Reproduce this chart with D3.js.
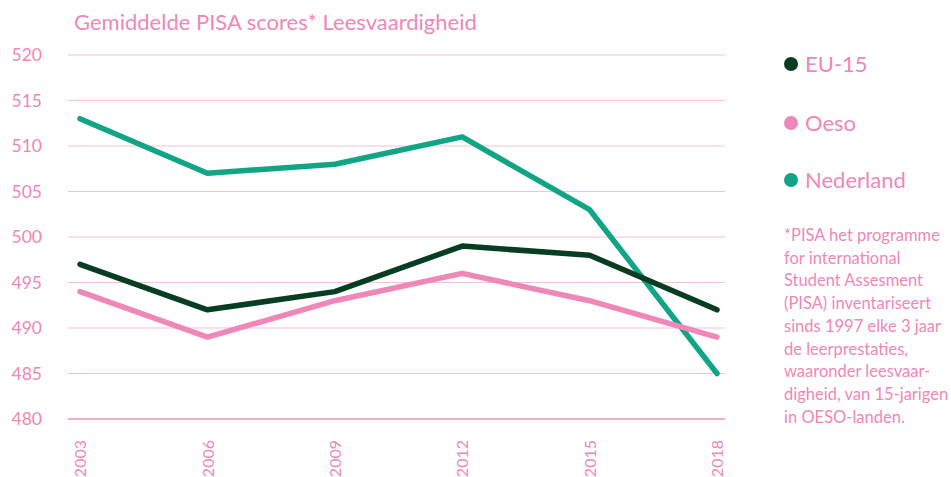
<!DOCTYPE html>
<html><head><meta charset="utf-8">
<script src="https://cdn.jsdelivr.net/npm/d3@7"></script>
<style>
body{margin:0;background:#fff;}
svg{display:block;font-family:"Lato","Noto Sans",sans-serif;}
</style></head>
<body><svg id="c" width="951" height="477"></svg>
<script>
const years = ["2003","2006","2009","2012","2015","2018"];
const eu15 = [497, 492, 494, 499, 498, 492];
const oeso = [494, 489, 493, 496, 493, 489];
const nederland = [513, 507, 508, 511, 503, 485];
const yTicks = [480, 485, 490, 495, 500, 505, 510, 515, 520];
const seriesNames = ["EU-15", "Oeso", "Nederland"];
const seriesColors = ["#073d21", "#ef87b8", "#12a585"];
const title = "Gemiddelde PISA scores* Leesvaardigheid";
const footnote = ["*PISA het programme","for international","Student Assesment","(PISA) inventariseert","sinds 1997 elke 3 jaar","de leerprestaties,","waaronder leesvaar-","digheid, van 15-jarigen","in OESO-landen."];

const pink = "#ef87b8";
const svg = d3.select("#c");
const x = d3.scalePoint().domain(years).range([80, 717]);
const y = d3.scaleLinear().domain([480, 520]).range([419, 55]);

svg.append("text").attr("x", 74).attr("y", 30).attr("fill", pink)
  .attr("font-size", 22).text(title);

// grid
const g = svg.append("g");
g.selectAll("line").data(yTicks).join("line")
  .attr("x1", 68).attr("x2", 725)
  .attr("y1", d => y(d)).attr("y2", d => y(d))
  .attr("stroke", d => d === 480 ? "#f08fbe" : "#f7c0d9")
  .attr("stroke-width", d => d === 480 ? 1.5 : 1);

// y axis labels
const yAxis = d3.axisLeft(y).tickValues(yTicks).tickSize(0).tickPadding(0);
svg.append("g").attr("transform", "translate(42,0)").call(yAxis)
  .call(s => s.select(".domain").remove())
  .call(s => s.selectAll("text").attr("fill", pink).attr("font-size", 17.5)
     .attr("font-family", "Lato, sans-serif"));

// x labels rotated
const xAxis = d3.axisBottom(x).tickSize(0).tickPadding(0);
svg.append("g").attr("transform", "translate(0,440)").call(xAxis)
  .call(s => s.select(".domain").remove())
  .call(s => s.selectAll("text").attr("fill", pink).attr("font-size", 16)
     .attr("font-family", "Lato, sans-serif")
     .attr("transform", "rotate(-90)")
     .attr("text-anchor", "end").attr("dy", "0.35em").attr("x", 0).attr("y", 0));

const line = d3.line().x((d, i) => x(years[i])).y(d => y(d));
const data = [eu15, oeso, nederland];
const drawOrder = [2, 1, 0];
drawOrder.forEach(i => {
  svg.append("path").datum(data[i]).attr("d", line)
    .attr("fill", "none").attr("stroke", seriesColors[i])
    .attr("stroke-width", 5.5).attr("stroke-linejoin", "round").attr("stroke-linecap", "round");
});

// legend
const legY = [64, 123, 180];
seriesNames.forEach((n, i) => {
  svg.append("circle").attr("cx", 791).attr("cy", legY[i]).attr("r", 7).attr("fill", seriesColors[i]);
  svg.append("text").attr("x", 805).attr("y", legY[i]).attr("dy", "0.35em")
    .attr("fill", pink).attr("font-size", 22).text(n);
});

const fn = svg.append("text").attr("fill", pink).attr("font-size", 16.5);
footnote.forEach((t, i) => {
  fn.append("tspan").attr("x", 784).attr("y", 241 + i * 22.7).text(t);
});
</script></body></html>
